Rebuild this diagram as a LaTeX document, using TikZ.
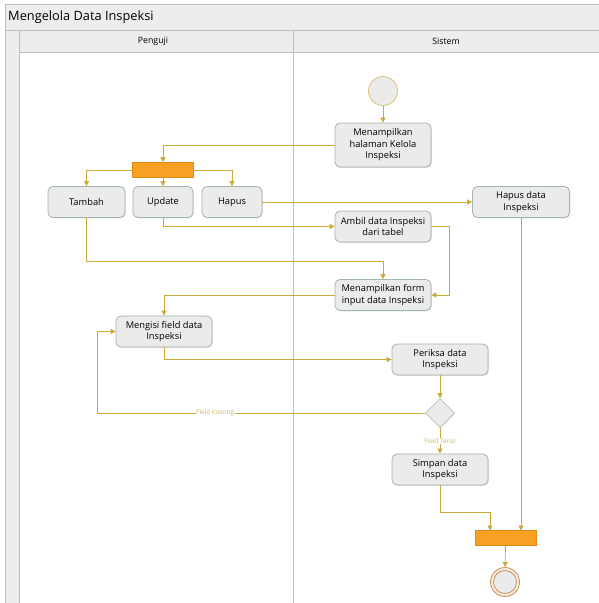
\documentclass[tikz,border=0pt]{standalone}
\usepackage{fontspec}
\setmainfont{Open Sans}
\usetikzlibrary{arrows.meta,shapes.geometric,shadows}
\definecolor{flow}{HTML}{CBA93A}
\definecolor{flowtxt}{HTML}{C9B46A}
\definecolor{lanegray}{HTML}{B4C2BE}
\definecolor{headfill}{HTML}{EDEDED}
\definecolor{boxfill}{HTML}{EBEBEB}
\definecolor{boxline}{HTML}{A3B5AF}
\definecolor{barfill}{HTML}{F8A024}
\definecolor{barline}{HTML}{E08B10}
\definecolor{endring}{HTML}{D48E4A}
\tikzset{
  act/.style={draw=boxline, fill=boxfill, rounded corners=5pt, line width=0.8pt,
    minimum height=31pt, align=center, font=\fontsize{9.3}{11.5}\selectfont,
    inner sep=1pt, drop shadow={shadow xshift=0.8pt, shadow yshift=-0.8pt, opacity=0.25}},
  bar/.style={draw=barline, fill=barfill, minimum width=61pt, minimum height=15pt, inner sep=0pt, line width=0.6pt},
  flowline/.style={draw=flow, line width=0.8pt, -{Triangle[width=5pt,length=5pt]}},
  plain/.style={draw=flow, line width=0.8pt},
  guard/.style={font=\fontsize{6.4}{7}\selectfont, text=flowtxt, fill=white, inner sep=0.6pt},
}
\begin{document}
\begin{tikzpicture}[x=1pt,y=-1pt]
\useasboundingbox (0,0) rectangle (598,603);
\fill[white] (0,0) rectangle (598,603);
% swimlane frame
\fill[headfill] (5,4) rectangle (600,52);
\fill[headfill] (5,4) rectangle (19,603);
\draw[lanegray, line width=0.9pt] (5,603) -- (5,4) -- (600,4);
\draw[lanegray, line width=0.9pt] (5,30) -- (600,30);
\draw[lanegray, line width=0.9pt] (19,52) -- (600,52);
\draw[lanegray, line width=0.9pt] (19,30) -- (19,603);
\draw[lanegray, line width=0.9pt] (293,30) -- (293,603);
\node[anchor=west, font=\fontsize{12.8}{15}\selectfont, inner sep=0pt] (title) at (8,17) {Mengelola Data Inspeksi};
\node[font=\fontsize{8.8}{10}\selectfont] (lane1) at (153,41) {Penguji};
\node[font=\fontsize{8.8}{10}\selectfont] (lane2) at (446,41) {Sistem};

% nodes
\node[circle, draw=flow!70, fill=boxfill, line width=0.8pt, minimum size=29pt, inner sep=0pt] (start) at (383,91) {};
\node[act, minimum width=96pt, minimum height=44pt] (home) at (383,145) {Menampilkan\\halaman Kelola\\Inspeksi};
\node[bar] (fork) at (163,170) {};
\node[act, minimum width=77pt] (tambah) at (86.5,202) {Tambah};
\node[act, minimum width=60pt] (update) at (163,202) {Update};
\node[act, minimum width=60pt] (hapus) at (232,202) {Hapus};
\node[act, minimum width=97pt] (hapusdata) at (521,202) {Hapus data\\Inspeksi};
\node[act, minimum width=96pt] (ambil) at (383,226.5) {Ambil data Inspeksi\\dari tabel};
\node[act, minimum width=96pt] (form) at (383,295) {Menampilkan form\\input data Inspeksi};
\node[act, minimum width=96pt] (isi) at (164,331.5) {Mengisi field data\\Inspeksi};
\node[act, minimum width=96pt] (periksa) at (440,359.5) {Periksa data\\Inspeksi};
\node[diamond, draw=boxline!80, fill=boxfill, minimum size=29pt, inner sep=0pt, line width=0.6pt,
  drop shadow={shadow xshift=0.8pt, shadow yshift=-0.8pt, opacity=0.25}] (cek) at (440,413) {};
\node[act, minimum width=96pt] (simpan) at (440,469.5) {Simpan data\\Inspeksi};
\node[bar] (join) at (505.5,538) {};
\node[circle, draw=endring, fill=boxfill, line width=0.8pt, minimum size=29pt, inner sep=0pt] (stop) at (505,582) {};
\node[circle, draw=endring, line width=0.8pt, minimum size=23pt, inner sep=0pt] (stopin) at (505,582) {};

% connectors
\draw[flowline] (start) -- (home);
\draw[flowline] (home.west) -| (fork.north);
\draw[flowline] (fork.west) -| (tambah.north);
\draw[flowline] (fork) -- (update);
\draw[flowline] (fork.east) -| (hapus.north);
\draw[flowline] (hapus.east) -- (hapusdata.west);
\draw[flowline] (update.south) |- (ambil.west);
\draw[flowline] (tambah.south) |- (383,261) -- (form.north);
\draw[flowline] (ambil.east) -- (449,226.5) |- (form.east);
\draw[flowline] (form.west) -| (isi.north);
\draw[flowline] (isi.south) |- (periksa.west);
\draw[flowline] (periksa) -- (cek);
\draw[plain] (cek.west) -- (97,413) node[guard, pos=0.64] {Field Kosong};
\draw[flowline] (97,413) |- (isi.west);
\draw[flowline] (cek.south) -- (simpan.north) node[guard, pos=0.5] {Field Terisi};
\draw[flowline] (simpan.south) |- (490,512) -- (490,530.5);
\draw[flowline] (hapusdata.south) -- (521,530.5);
\draw[flowline] (join) -- (stop);
\end{tikzpicture}
\end{document}
